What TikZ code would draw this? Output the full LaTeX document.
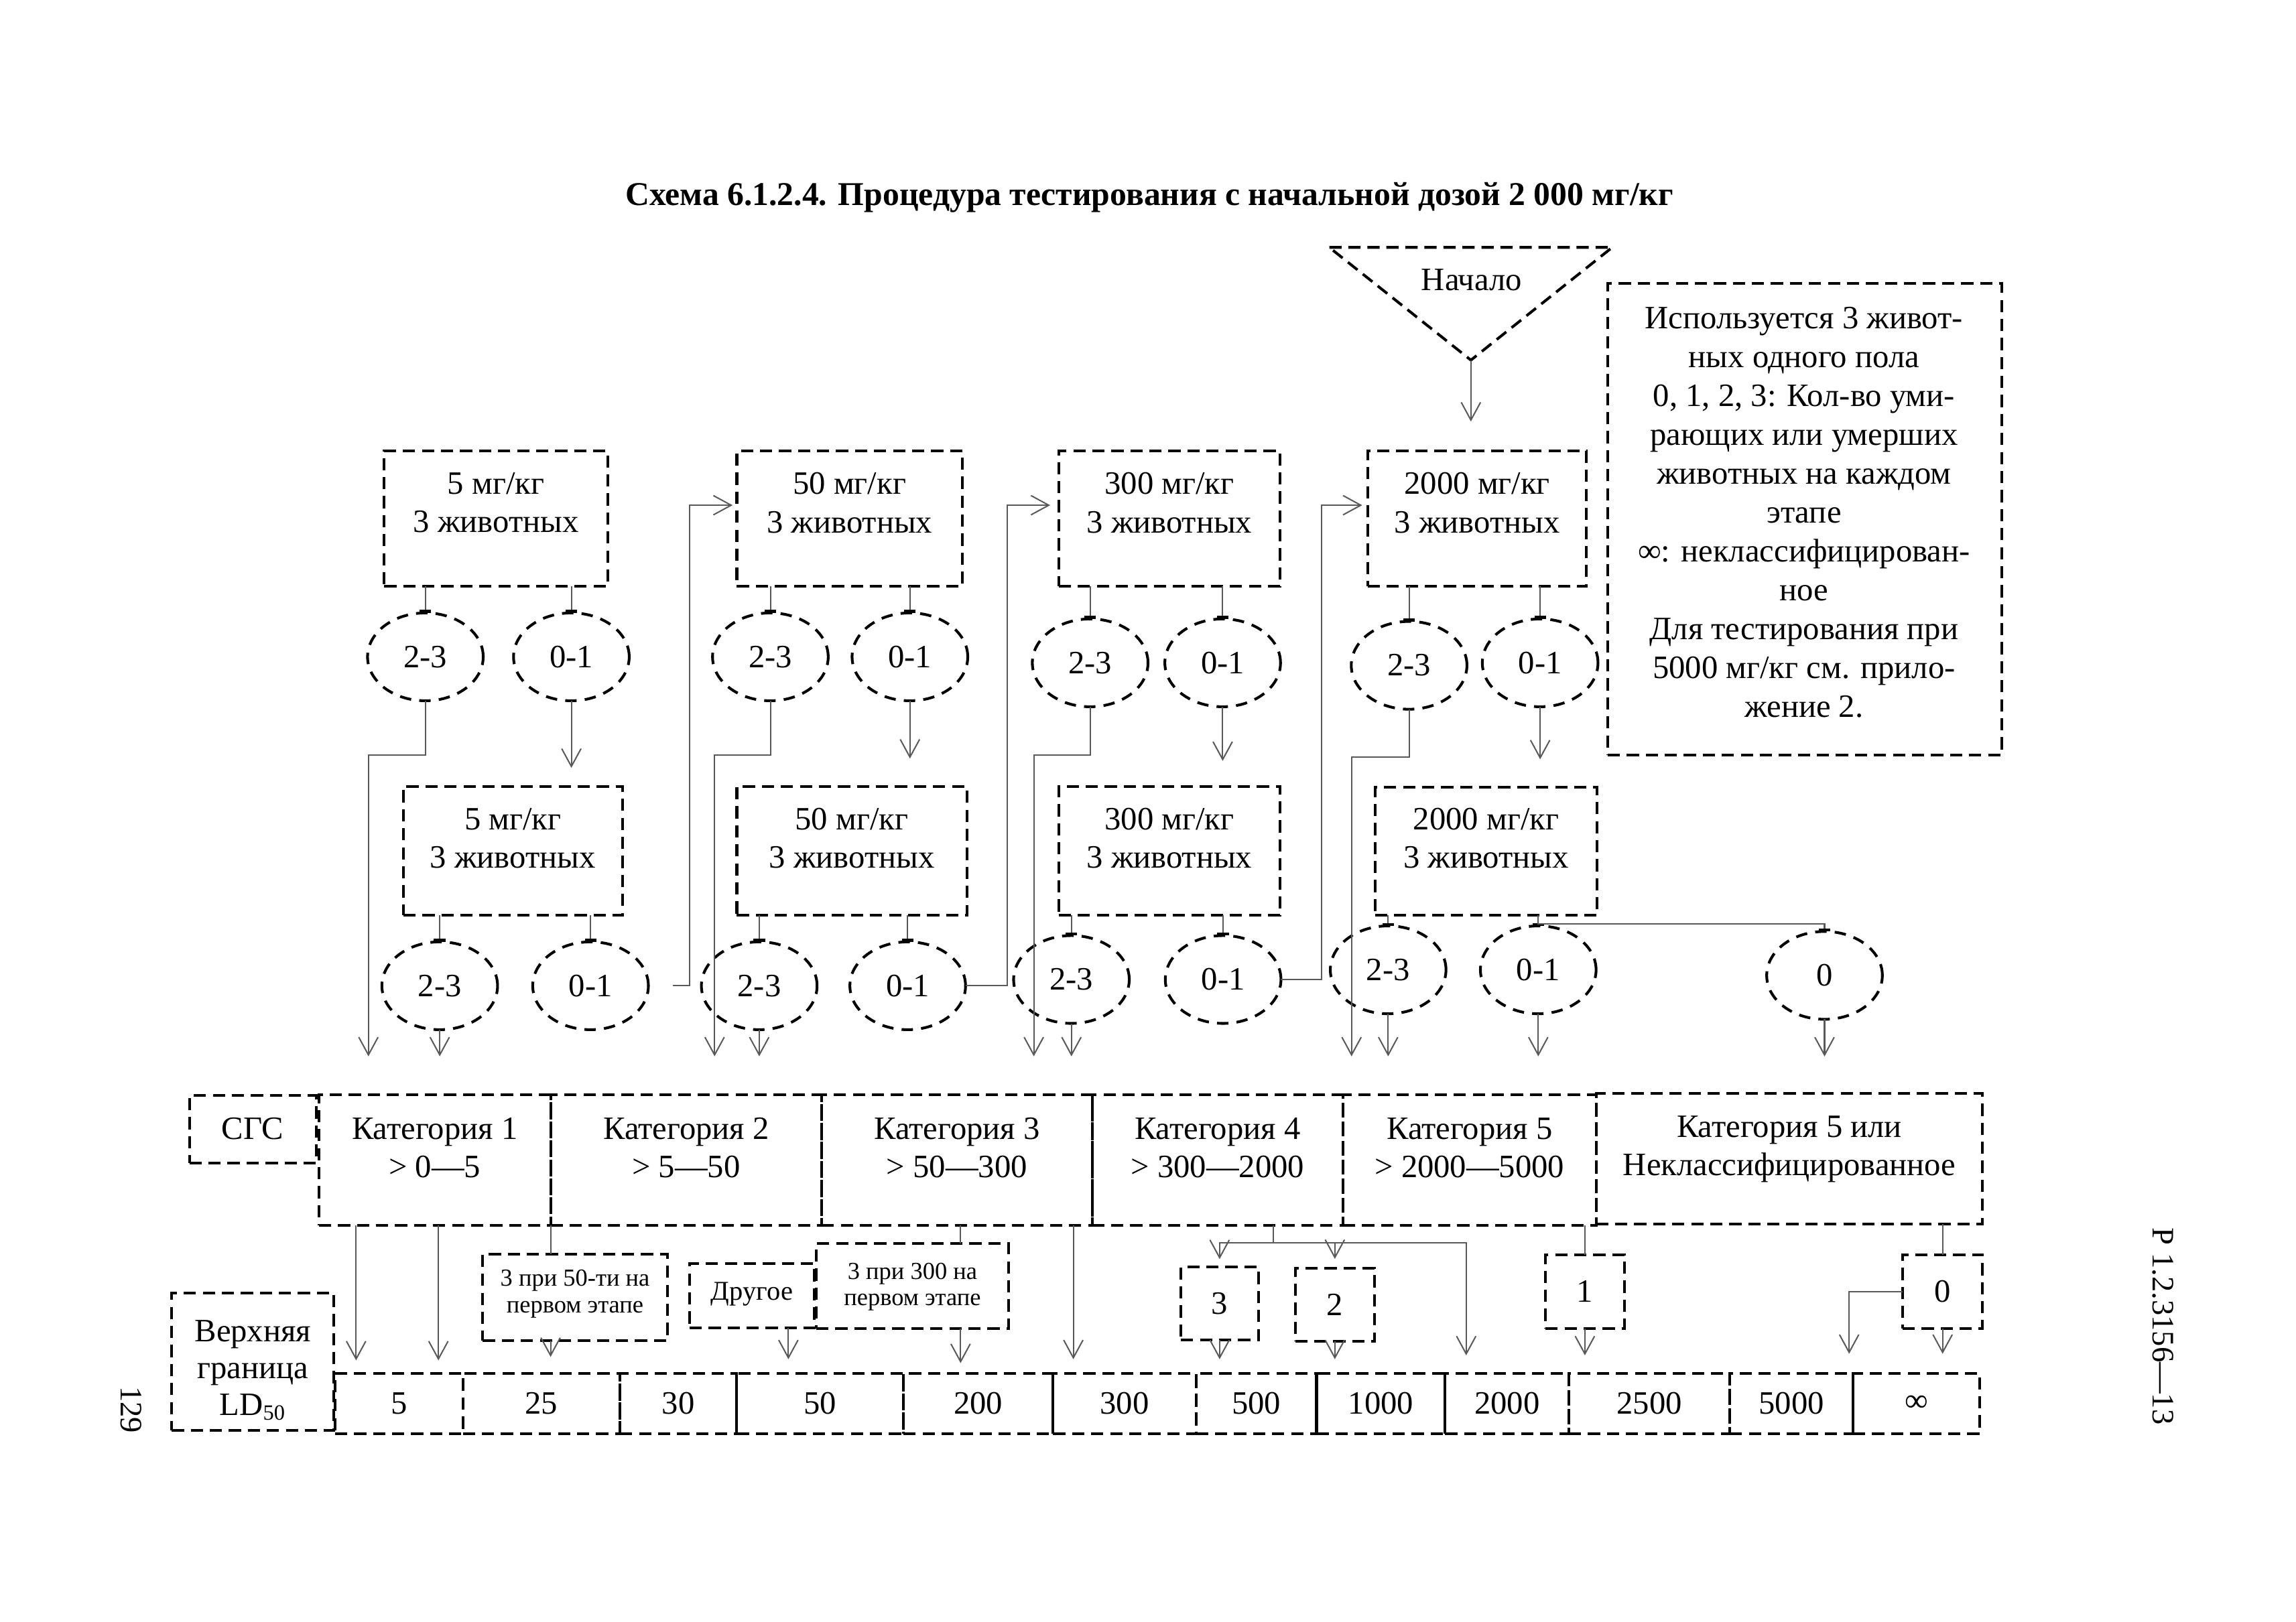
\documentclass[tikz,border=0pt]{standalone}
\usepackage{fontspec}
\setmainfont{Liberation Serif}
\usetikzlibrary{arrows.meta,shapes.geometric}
\newcommand\mkbox[5]{\node[bx,minimum width={(#4-#2)*0.18941mm},minimum height={(#5-#3)*0.18941mm}] (#1) at ({(#2+#4)/2},{(#3+#5)/2}) {};}
\begin{document}
\begin{tikzpicture}[x=0.18941mm,y=-0.18941mm,
  font=\fontsize{12}{14.1}\selectfont,
  dsh/.style={line width=1pt,dash pattern=on 4.5pt off 2.5pt},
  bx/.style={draw,dsh,inner sep=0pt,outer sep=0pt},
  el/.style={ellipse,draw,line width=1pt,dash pattern=on 4.2pt off 3pt,minimum width=79*0.18941mm,minimum height=60*0.18941mm,inner sep=0pt,outer sep=0pt},
  txt/.style={align=center,inner sep=0pt},
  small/.style={txt,font=\fontsize{9}{9.8}\selectfont},
  conn/.style={draw=black!65,line width=0.5pt},
  arr/.style={conn,-{Straight Barb[length=2.3mm,width=2.5mm]}},
  stub/.style={conn,-{Bar[width=1.5mm,line width=1.1pt,color=black]}}]
\useasboundingbox (0,0) rectangle (1568,1107.6);

% title
\node[font=\bfseries\fontsize{12.25}{14}\selectfont,inner sep=0pt] (title) at (785,135) {Схема 6.1.2.4. Процедура тестирования с начальной дозой 2 000 мг/кг};

% start triangle
\coordinate (trA) at (907.8,169);
\coordinate (trB) at (1101,169);
\coordinate (trC) at (1004.5,246);
\draw[dsh] (trA) -- (trB) -- (trC) -- cycle;
\node[txt] (start) at (1005,191) {Начало};

% note
\mkbox{note}{1097.9}{193.5}{1366.9}{515.7}
\node[txt,font=\fontsize{12}{14.3}\selectfont] (notet) at (1232,350) {Используется 3 живот-\\ных одного пола\\0, 1, 2, 3: Кол-во уми-\\рающих или умерших\\животных на каждом\\этапе\\∞: неклассифицирован-\\ное\\Для тестирования при\\5000 мг/кг см. прило-\\жение 2.};

% dose boxes, row 1
\mkbox{A1}{262.4}{308}{415.0}{400.6}
\mkbox{B1}{503.2}{308}{657.3}{400.6}
\mkbox{C1}{723}{308}{874.2}{400.6}
\mkbox{D1}{934}{308}{1083.5}{400.6}
\node[txt] (A1t) at (338.7,343.5) {5 мг/кг\\3 животных};
\node[txt] (B1t) at (580.2,343.5) {50 мг/кг\\3 животных};
\node[txt] (C1t) at (798.6,343.5) {300 мг/кг\\3 животных};
\node[txt] (D1t) at (1008.8,343.5) {2000 мг/кг\\3 животных};

% dose boxes, row 2
\mkbox{A2}{275.5}{537.2}{425.0}{625.3}
\mkbox{B2}{503.2}{537.2}{660.2}{625.3}
\mkbox{C2}{723}{537.2}{874.2}{625.3}
\mkbox{D2}{939}{537.7}{1090.8}{625.3}
\node[txt] (A2t) at (350.2,572.5) {5 мг/кг\\3 животных};
\node[txt] (B2t) at (581.7,572.5) {50 мг/кг\\3 животных};
\node[txt] (C2t) at (798.6,572.5) {300 мг/кг\\3 животных};
\node[txt] (D2t) at (1014.9,572.5) {2000 мг/кг\\3 животных};

% outcome ellipses, row 1
\node[el] (E1a) at (290.5,448.7) {2-3};
\node[el] (E1b) at (390.2,448.7) {0-1};
\node[el] (F1a) at (526.1,448.7) {2-3};
\node[el] (F1b) at (621.4,448.7) {0-1};
\node[el] (G1a) at (744.5,452.8) {2-3};
\node[el] (G1b) at (835,452.8) {0-1};
\node[el] (H1a) at (962.3,454.5) {2-3};
\node[el] (H1b) at (1051.8,452.8) {0-1};

% outcome ellipses, row 2
\node[el] (E2a) at (300.3,673.4) {2-3};
\node[el] (E2b) at (403.3,673.4) {0-1};
\node[el] (F2a) at (518.5,673.4) {2-3};
\node[el] (F2b) at (619.9,673.4) {0-1};
\node[el] (G2a) at (731.7,669.1) {2-3};
\node[el] (G2b) at (835.3,669.1) {0-1};
\node[el] (H2a) at (948,662.5) {2-3};
\node[el] (H2b) at (1050.5,662.5) {0-1};
\node[el] (Z0) at (1246,666.3) {0};

% categories
\mkbox{SGS}{129.4}{748.4}{215.9}{794.5}
\mkbox{Cat1}{217.8}{748}{376}{837}
\mkbox{Cat2}{376}{748}{561.2}{837}
\mkbox{Cat3}{561.2}{748}{745.8}{837}
\mkbox{Cat4}{745.8}{748}{917.2}{837}
\mkbox{Cat5}{917.2}{748}{1090}{837}
\mkbox{Cat6}{1090}{747}{1354}{836}
\node[txt] (SGSt) at (172.6,771) {СГС};
\node[txt] (Cat1t) at (296.9,784) {Категория 1\\> 0—5};
\node[txt] (Cat2t) at (468.6,784) {Категория 2\\> 5—50};
\node[txt] (Cat3t) at (653.5,784) {Категория 3\\> 50—300};
\node[txt] (Cat4t) at (831.5,784) {Категория 4\\> 300—2000};
\node[txt] (Cat5t) at (1003.6,784) {Категория 5\\> 2000—5000};
\node[txt] (Cat6t) at (1222,785) {Категория 5 или\\Неклассифицированное};

% intermediate boxes
\mkbox{S50}{329.7}{856.6}{455.7}{915.8}
\mkbox{Drug}{470.9}{863.3}{556.2}{907}
\mkbox{S300}{557.4}{849.5}{688.8}{907.4}
\mkbox{B3}{806.5}{865.4}{859.3}{915.3}
\mkbox{B2b}{884.5}{866.3}{938.7}{916.2}
\mkbox{B1b}{1055.5}{857}{1109.2}{907.4}
\mkbox{B0}{1299.3}{857}{1354}{907.4}
\node[small] (S50t) at (392.7,884) {3 при 50-ти на\\первом этапе};
\node[txt,font=\fontsize{10}{12}\selectfont] (Drugt) at (513.5,884) {Другое};
\node[small] (S300t) at (623.1,879) {3 при 300 на\\первом этапе};
\node[txt] (B3t) at (832.9,890.3) {3};
\node[txt] (B2bt) at (911.6,891.2) {2};
\node[txt] (B1bt) at (1082.3,882.2) {1};
\node[txt] (B0t) at (1326.6,882.2) {0};

% LD50 row
\mkbox{LD}{117.3}{883.3}{228.1}{977}
\node[txt,font=\fontsize{12}{13.6}\selectfont] (LDt) at (172.7,936) {Верхняя\\граница\\LD\textsubscript{50}};
\mkbox{n5}{228.8}{938}{316.1}{979.5}
\mkbox{n25}{316.1}{938}{423.4}{979.5}
\mkbox{n30}{423.4}{938}{503.1}{979.5}
\mkbox{n50}{503.1}{938}{617}{979.5}
\mkbox{n200}{617}{938}{719.2}{979.5}
\mkbox{n300}{719.2}{938}{816.8}{979.5}
\mkbox{n500}{816.8}{938}{899.1}{979.5}
\mkbox{n1000}{899.1}{938}{986.9}{979.5}
\mkbox{n2000}{986.9}{938}{1071.4}{979.5}
\mkbox{n2500}{1071.4}{938}{1181.3}{979.5}
\mkbox{n5000}{1181.3}{938}{1265.5}{979.5}
\mkbox{ninf}{1265.5}{938}{1352}{979.5}
\foreach \n/\t in {n5/5,n25/25,n30/30,n50/50,n200/200,n300/300,n500/500,n1000/1000,n2000/2000,n2500/2500,n5000/5000,ninf/∞}
  \node[txt] (\n t) at (\n) {\t};

% page labels
\node[txt,rotate=-90,font=\fontsize{11.5}{13}\selectfont] (pagenum) at (89.4,963) {129};
\node[txt,rotate=-90,font=\fontsize{11.5}{13}\selectfont] (header) at (1477,906) {Р 1.2.3156—13};

% ---- connectors ----
\draw[arr,shorten >=3.8mm] (trC) -- (trC |- D1.north);

\foreach \b/\e in {A1/E1a,A1/E1b,B1/F1a,B1/F1b,C1/G1a,C1/G1b,D1/H1a,D1/H1b,A2/E2a,A2/E2b,B2/F2a,B2/F2b,C2/G2a,C2/G2b,D2/H2a,D2/H2b}
  \draw[stub] (\b.south -| \e.north) -- (\e.north);
\draw[stub] (D2.south -| H2b.north) -- ++(0,5.8) -| (Z0.north);

% 0-1 of first stage -> repeat dose
\draw[arr,shorten >=2.4mm] (E1b.south) -- (E1b.south |- A2.north);
\draw[arr,shorten >=3.6mm] (F1b.south) -- (F1b.south |- B2.north);
\draw[arr,shorten >=3.3mm] (G1b.south) -- (G1b.south |- C2.north);
\draw[arr,shorten >=3.6mm] (H1b.south) -- (H1b.south |- D2.north);

% 2-3 of first stage -> category
\coordinate (bE1) at (251.6,515.8);
\coordinate (bF1) at (488,515.8);
\coordinate (bG1) at (706,515.8);
\coordinate (bH1) at (923,517.3);
\draw[arr,shorten >=5mm] (E1a.south) |- (bE1) -- (bE1 |- Cat1.north);
\draw[arr,shorten >=5mm] (F1a.south) |- (bF1) -- (bF1 |- Cat2.north);
\draw[arr,shorten >=5mm] (G1a.south) |- (bG1) -- (bG1 |- Cat3.north);
\draw[arr,shorten >=5mm] (H1a.south) |- (bH1) -- (bH1 |- Cat5.north);

% second stage -> category
\draw[arr,shorten >=5mm] (E2a.south) -- (E2a.south |- Cat1.north);
\draw[arr,shorten >=5mm] (F2a.south) -- (F2a.south |- Cat2.north);
\draw[arr,shorten >=5mm] (G2a.south) -- (G2a.south |- Cat3.north);
\draw[arr,shorten >=5mm] (H2a.south) -- (H2a.south |- Cat5.north);
\draw[arr,shorten >=5mm] (H2b.south) -- (H2b.south |- Cat5.north);
\draw[arr,shorten >=4.8mm] (Z0.south) -- (Z0.south |- Cat6.north);

% 0-1 of second stage -> next dose
\coordinate (rE2) at (471,673.4);
\coordinate (rF2) at (688,673.4);
\coordinate (rG2) at (902.5,669.1);
\draw[arr,shorten <=3.2mm,shorten >=0.55mm] (E2b.east) -- (rE2) |- ([yshift=1.74mm]B1.west);
\draw[arr,shorten >=1.1mm] (F2b.east) -- (rF2) |- ([yshift=1.74mm]C1.west);
\draw[arr,shorten >=0.7mm] (G2b.east) -- (rG2) |- ([yshift=1.74mm]D1.west);

% categories -> LD50 values
\coordinate (c1a) at (243.2,837);
\coordinate (c1b) at (299.4,837);
\coordinate (c2a) at (376,837);
\coordinate (c3b) at (733,837);
\draw[arr,shorten >=1.65mm] (c1a) -- (c1a |- n5.north);
\draw[arr,shorten >=1.65mm] (c1b) -- (c1b |- n5.north);
\draw[conn] (c2a) -- (c2a |- S50.north);
\draw[arr,shorten >=2.1mm] (c2a |- S50.south) -- (c2a |- n25.north);
\draw[conn] (Drug.north -| 538.4,0) -- (Drug.north -| 538.4,0 |- Cat2.south);
\draw[arr,shorten >=1.8mm] (Drug.south -| 538.4,0) -- (538.4,938);
\draw[conn] (S300.north -| 656,0) -- (656,837);
\draw[arr,shorten >=1.3mm] (S300.south -| 656,0) -- (656,938);
\draw[arr,shorten >=1.8mm] (c3b) -- (c3b |- n300.north);

\coordinate (k4) at (869.6,848.8);
\coordinate (k4e) at (1001.3,938);
\draw[conn] (k4 |- Cat4.south) -- (k4);
\draw[arr,shorten >=1mm] (k4) -| (B3.north);
\draw[arr,shorten >=1.2mm] (k4) -| (B2b.north);
\draw[arr,shorten >=2.3mm] (k4) -| (k4e);
\draw[arr,shorten >=1.8mm] (B3.south) -- (B3.south |- n500.north);
\draw[arr,shorten >=1.8mm] (B2b.south) -- (B2b.south |- n1000.north);
\draw[conn] (B1b.north |- Cat5.south) -- (B1b.north);
\draw[arr,shorten >=2.3mm] (B1b.south) -- (B1b.south |- n2500.north);
\draw[conn] (B0.north |- Cat6.south) -- (B0.north);
\draw[arr,shorten >=2.5mm] (B0.south) -- (B0.south |- ninf.north);
\coordinate (k0) at (1262.8,938);
\draw[arr,shorten >=2.5mm] (B0.west) -| (k0);
\end{tikzpicture}
\end{document}
